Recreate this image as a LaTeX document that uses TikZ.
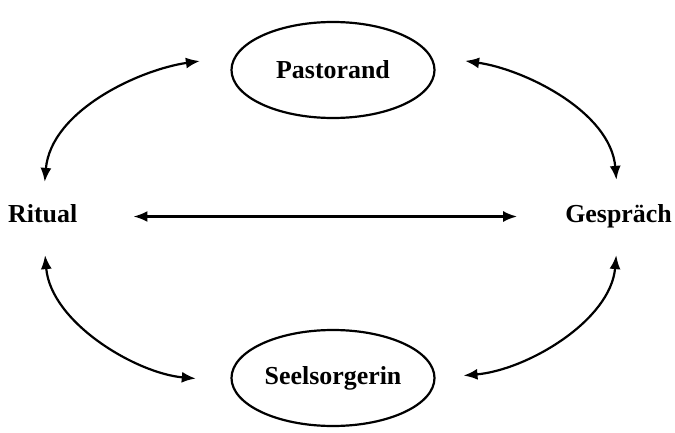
\documentclass[tikz,border=0pt]{standalone}
\usepackage{fontspec}
\setmainfont{Liberation Serif}
\usetikzlibrary{arrows.meta,shapes.geometric}
\tikzset{
	label font/.style={font=\bfseries\fontsize{26}{30}\selectfont},
	pole/.style={ellipse, draw, line width=2.2bp, minimum width=203bp, minimum height=96bp, inner sep=0pt, label font},
	side/.style={inner sep=0pt, text height=18bp, text depth=6bp, label font},
	link/.style={{Latex[length=14bp,width=11bp]}-{Latex[length=14bp,width=11bp]}, line width=2.2bp},
}
\begin{document}
\begin{tikzpicture}[x=1bp, y=1bp]
		\useasboundingbox (0,0) rectangle (675,432);
		\node[pole] (past) at (333,362) {Pastorand};
		\node[pole] (seel) at (333,54) {Seelsorgerin};
		\node[side, anchor=base west] (rit) at (8,209.5) {Ritual};
		\node[side, anchor=base east] (ges) at (672,209.5) {Gespräch};
		\draw [link, shorten <=35bp, shorten >=22.5bp] (past.172) to[out=188, in=85] (rit.north);
		\draw [link, shorten <=34bp, shorten >=24.5bp] (past.8) to[out=-8, in=95] (ges.north);
		\draw [link, shorten <=26.5bp, shorten >=35bp] (rit.south) to[out=-85, in=175] (seel.182);
		\draw [link, shorten <=26.5bp, shorten >=28bp] (ges.south) to[out=-95, in=5] (seel.east);
		\draw [link, shorten <=56bp, shorten >=48bp] (rit.east) -- (ges.west);
	\end{tikzpicture}
\end{document}
